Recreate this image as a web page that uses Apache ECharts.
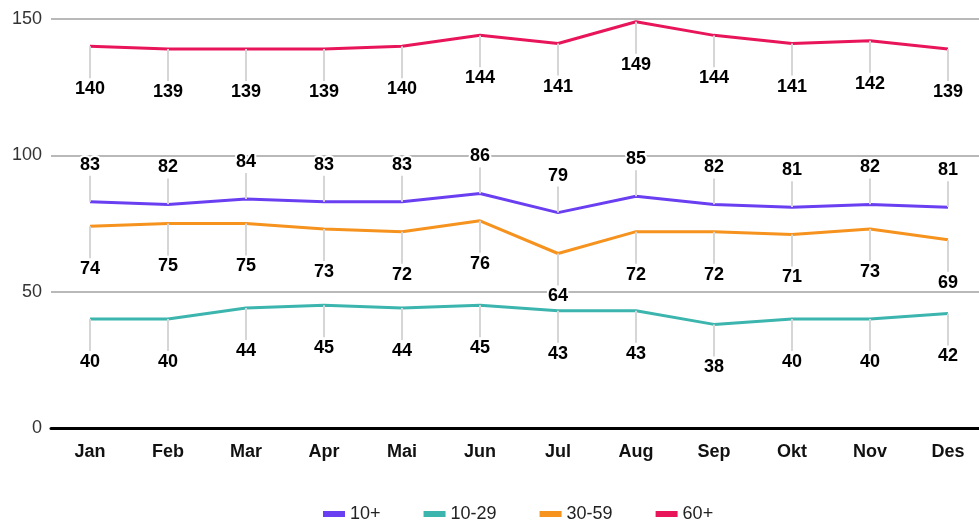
<!DOCTYPE html>
<html>
<head>
<meta charset="utf-8">
<script src="https://cdn.jsdelivr.net/npm/echarts@6/dist/echarts.min.js"></script>
<style>
  html, body { margin: 0; padding: 0; background: #fff; }
  #chart { width: 979px; height: 520px; }
</style>
</head>
<body>
<div id="chart"></div>
<script>
// data
const months = ['Jan', 'Feb', 'Mar', 'Apr', 'Mai', 'Jun', 'Jul', 'Aug', 'Sep', 'Okt', 'Nov', 'Des']
const s10 = [83, 82, 84, 83, 83, 86, 79, 85, 82, 81, 82, 81]
const s1029 = [40, 40, 44, 45, 44, 45, 43, 43, 38, 40, 40, 42]
const s3059 = [74, 75, 75, 73, 72, 76, 64, 72, 72, 71, 73, 69]
const s60 = [140, 139, 139, 139, 140, 144, 141, 149, 144, 141, 142, 139]
const yTicks = [0, 50, 100, 150]

const font = 'Liberation Sans, Arial, sans-serif'

// one line series, label moved up/down with a grey guide line
function makeLine(name, data, color, dy) {
  return {
    name: name,
    type: 'line',
    data: data,
    symbol: 'circle',
    symbolSize: 0.1,
    itemStyle: { color: color },
    lineStyle: { color: color, width: 3 },
    label: {
      show: true,
      position: 'inside',
      color: '#000',
      fontFamily: font,
      fontSize: 18,
      fontWeight: 'bold',
      textBorderColor: '#fff',
      textBorderWidth: 4,
    },
    labelLayout: { dy: dy },
    labelLine: {
      show: true,
      lineStyle: { color: '#d6d6d6', width: 2 },
    },
    z: 3,
  }
}

let mycharts = echarts.init(document.getElementById('chart'))
mycharts.setOption({
  animation: false,
  // the category bands run a bit past the right edge, like the original
  grid: { left: 51, right: -8, top: 19, bottom: 92, outerBoundsMode: 'none' },
  xAxis: {
    type: 'category',
    data: months,
    axisLine: { show: true, lineStyle: { color: '#000', width: 3 } },
    axisTick: { show: false },
    axisLabel: {
      color: '#111',
      fontFamily: font,
      fontSize: 18,
      fontWeight: 'bold',
      margin: 15,
    },
  },
  yAxis: {
    type: 'value',
    min: 0,
    max: 150,
    interval: 50,
    axisLine: { show: false },
    axisTick: { show: false },
    axisLabel: {
      color: '#333',
      fontFamily: font,
      fontSize: 18,
      margin: 9,
      formatter: v => (yTicks.includes(v) ? String(v) : ''),
    },
    splitLine: { lineStyle: { color: '#b9b9b9', width: 2 } },
  },
  legend: {
    top: 500,
    left: 318,
    icon: 'rect',
    itemWidth: 22,
    itemHeight: 6,
    itemGap: 43,
    textStyle: { color: '#222', fontFamily: font, fontSize: 18 },
    data: ['10+', '10-29', '30-59', '60+'],
  },
  series: [
    makeLine('10+', s10, '#6a3ff2', -37),
    makeLine('10-29', s1029, '#3bb5ae', 43),
    makeLine('30-59', s3059, '#f6921e', 43),
    makeLine('60+', s60, '#e8155a', 43),
  ],
})
</script>
</body>
</html>
